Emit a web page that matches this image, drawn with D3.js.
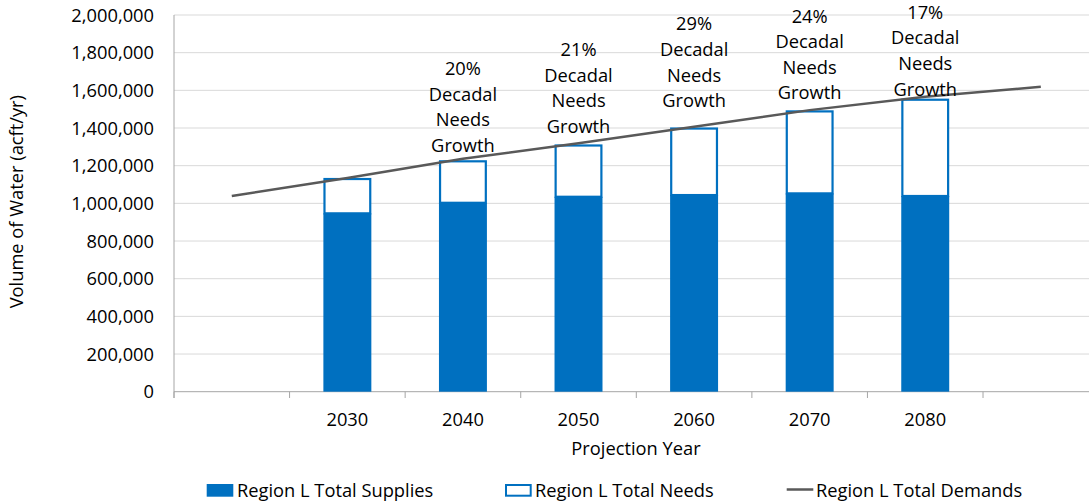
<!DOCTYPE html>
<html><head><meta charset="utf-8">
<script src="https://cdn.jsdelivr.net/npm/d3@7/dist/d3.min.js"></script>
<style>body{margin:0;background:#fff}svg{display:block}text{font-family:"Open Sans",sans-serif;fill:#000}</style>
</head><body><svg id="c" width="1089" height="504"></svg>
<script>
const categories = ["", "2030", "2040", "2050", "2060", "2070", "2080", ""];
const barYears = ["2030", "2040", "2050", "2060", "2070", "2080"];
const supplies = [947000, 1003000, 1035000, 1044000, 1053000, 1039000];
const needs = [188000, 226000, 278000, 359000, 441000, 517000];
const demands = [1039000, 1135000, 1237000, 1319000, 1407000, 1495000, 1566000, 1619000];
const growthLabels = ["", "20%", "21%", "29%", "24%", "17%"];
const labelAnchor = [null, 1274000, 1375000, 1510000, 1552000, 1572000];
const yTicks = [0, 200000, 400000, 600000, 800000, 1000000, 1200000, 1400000, 1600000, 1800000, 2000000];
const legendItems = ["Region L Total Supplies", "Region L Total Needs", "Region L Total Demands"];

const svg = d3.select("#c");
const blue = "#0070C0";
const fs = 18.3;
const x = d3.scaleBand().domain(d3.range(categories.length)).range([174, 1098.6]).padding(0);
const y = d3.scaleLinear().domain([0, 2000000]).range([391.7, 15]);
const fmt = d3.format(",");

// gridlines
svg.append("g").selectAll("line").data(yTicks.filter(d => d > 0)).join("line")
  .attr("x1", 174).attr("x2", 1089).attr("y1", d => y(d)).attr("y2", d => y(d))
  .attr("stroke", "#d9d9d9").attr("stroke-width", 1);

// y tick labels
svg.append("g").selectAll("text").data(yTicks).join("text")
  .attr("x", 154).attr("y", d => y(d) + 6.6).attr("text-anchor", "end")
  .attr("font-size", fs).text(d => fmt(d));

// axes lines
svg.append("line").attr("x1", 174).attr("x2", 174).attr("y1", y(2000000)).attr("y2", 398)
  .attr("stroke", "#a6a6a6").attr("stroke-width", 1);
svg.append("line").attr("x1", 174).attr("x2", 1089).attr("y1", y(0)).attr("y2", y(0))
  .attr("stroke", "#a6a6a6").attr("stroke-width", 1);
svg.append("g").selectAll("line").data(d3.range(categories.length + 1)).join("line")
  .attr("x1", i => x.range()[0] + i * x.step()).attr("x2", i => x.range()[0] + i * x.step())
  .attr("y1", y(0)).attr("y2", 398).attr("stroke", "#a6a6a6").attr("stroke-width", 1);

// x tick labels
svg.append("g").selectAll("text").data(categories).join("text")
  .attr("x", (d, i) => x(i) + x.bandwidth() / 2).attr("y", 426).attr("text-anchor", "middle")
  .attr("font-size", fs).text(d => d);

// bars
const bw = x.bandwidth() * 0.415;
const bx = yr => x(categories.indexOf(yr)) + x.bandwidth() / 2 - bw / 2;
svg.append("g").selectAll("rect").data(barYears).join("rect")
  .attr("x", d => bx(d)).attr("width", bw)
  .attr("y", (d, i) => y(supplies[i])).attr("height", (d, i) => y(0) - y(supplies[i]))
  .attr("fill", blue);
svg.append("g").selectAll("rect").data(barYears).join("rect")
  .attr("x", d => bx(d) + 1.1).attr("width", bw - 2.2)
  .attr("y", (d, i) => y(supplies[i] + needs[i]) + 1.1)
  .attr("height", (d, i) => y(supplies[i]) - y(supplies[i] + needs[i]) - 1.1)
  .attr("fill", "#fff").attr("stroke", blue).attr("stroke-width", 2.2);

// demands line
const line = d3.line().x((d, i) => x(i) + x.bandwidth() / 2).y(d => y(d));
svg.append("path").attr("d", line(demands)).attr("fill", "none")
  .attr("stroke", "#595959").attr("stroke-width", 2.5);

// growth labels
barYears.forEach((yr, i) => {
  if (!growthLabels[i]) return;
  const cx = x(categories.indexOf(yr)) + x.bandwidth() / 2;
  const base = y(labelAnchor[i]);
  const lines = [growthLabels[i], "Decadal", "Needs", "Growth"];
  const t = svg.append("text").attr("text-anchor", "middle").attr("font-size", fs);
  lines.forEach((l, k) => {
    t.append("tspan").attr("x", cx).attr("y", base - (lines.length - 1 - k) * 25.6).text(l);
  });
});

// axis titles
svg.append("text").attr("x", 636).attr("y", 455).attr("text-anchor", "middle")
  .attr("font-size", fs).text("Projection Year");
svg.append("text").attr("transform", "translate(23,201.7) rotate(-90)").attr("text-anchor", "middle")
  .attr("font-size", fs).text("Volume of Water (acft/yr)");

// legend
const lg = svg.append("g");
lg.append("rect").attr("x", 206.7).attr("y", 484).attr("width", 26.6).attr("height", 12.7).attr("fill", blue);
lg.append("rect").attr("x", 506).attr("y", 485).attr("width", 24.7).attr("height", 10.7)
  .attr("fill", "#fff").attr("stroke", blue).attr("stroke-width", 2);
lg.append("line").attr("x1", 786.7).attr("x2", 813.3).attr("y1", 489.5).attr("y2", 489.5)
  .attr("stroke", "#595959").attr("stroke-width", 2.5);
const lx = [237, 535, 816];
lg.selectAll("text").data(legendItems).join("text")
  .attr("x", (d, i) => lx[i]).attr("y", 497).attr("font-size", fs).text(d => d);
</script></body></html>
